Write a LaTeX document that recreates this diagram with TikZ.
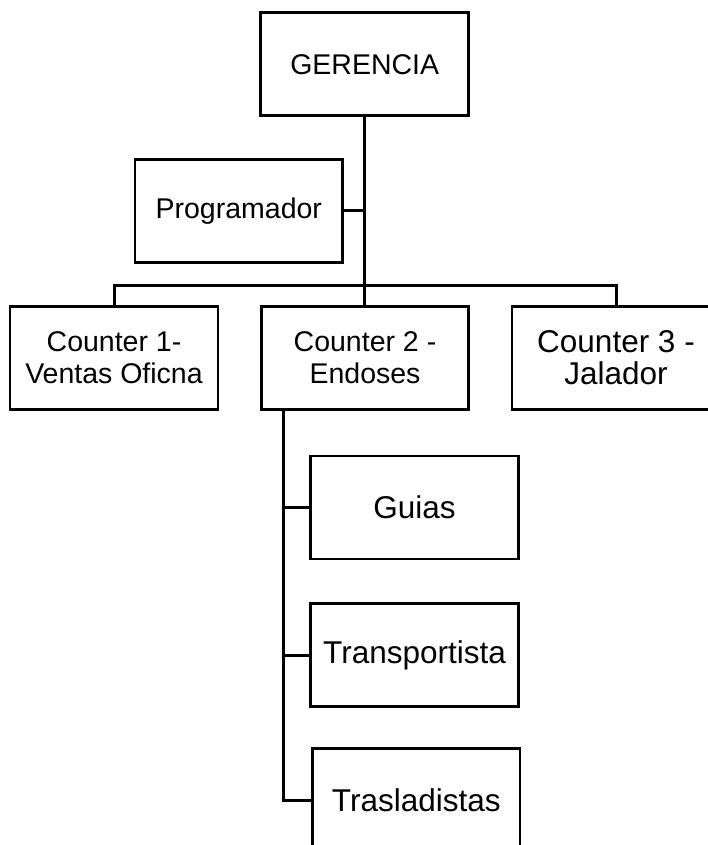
\documentclass[tikz,border=0pt]{standalone}
\usepackage{fontspec}
\setmainfont{Liberation Sans}
\begin{document}
\begin{tikzpicture}[x=1pt,y=-1pt,
  box/.style={draw=black,line width=2.8pt,fill=white,inner sep=0pt,align=center,
    minimum width=208pt,minimum height=103pt},
  smalltext/.style={font=\fontsize{28.5}{31.5}\selectfont},
  bigtext/.style={font=\fontsize{31.5}{32}\selectfont},
  conn/.style={draw=black,line width=3pt}]
\useasboundingbox (0,0) rectangle (707,845);
\node[box,smalltext] (ger) at (364.7,64.2) {GERENCIA};
\node[box,smalltext,minimum width=207.5pt] (prog) at (238.8,210.7) {Programador};
\node[box,smalltext] (c1) at (114,357.7) {Counter 1-\\Ventas Oficna};
\node[box,smalltext,minimum width=207.5pt] (c2) at (365,357.7) {Counter 2 -\\Endoses};
\node[box,bigtext] (c3) at (616,357.7) {Counter 3 -\\Jalador};
\node[box,bigtext,minimum width=207.5pt] (guias) at (414.5,507.5) {Guias};
\node[box,bigtext,minimum width=207.5pt] (trans) at (414.5,655) {Transportista};
\node[box,bigtext,minimum width=207.5pt] (tras) at (416.3,800) {Trasladistas};
\coordinate (bus) at (365,285);
\coordinate (spine) at (283,409);
\draw[conn] (ger.south) -- (ger.south |- c2.north);
\draw[conn] (c1.north) |- (bus) -| (c3.north);
\draw[conn] (prog.east) -- (prog.east -| ger.south);
\draw[conn] (c2.south -| spine) |- (tras.west);
\draw[conn] (guias.west) -- (guias.west -| spine);
\draw[conn] (trans.west) -- (trans.west -| spine);
\end{tikzpicture}
\end{document}
